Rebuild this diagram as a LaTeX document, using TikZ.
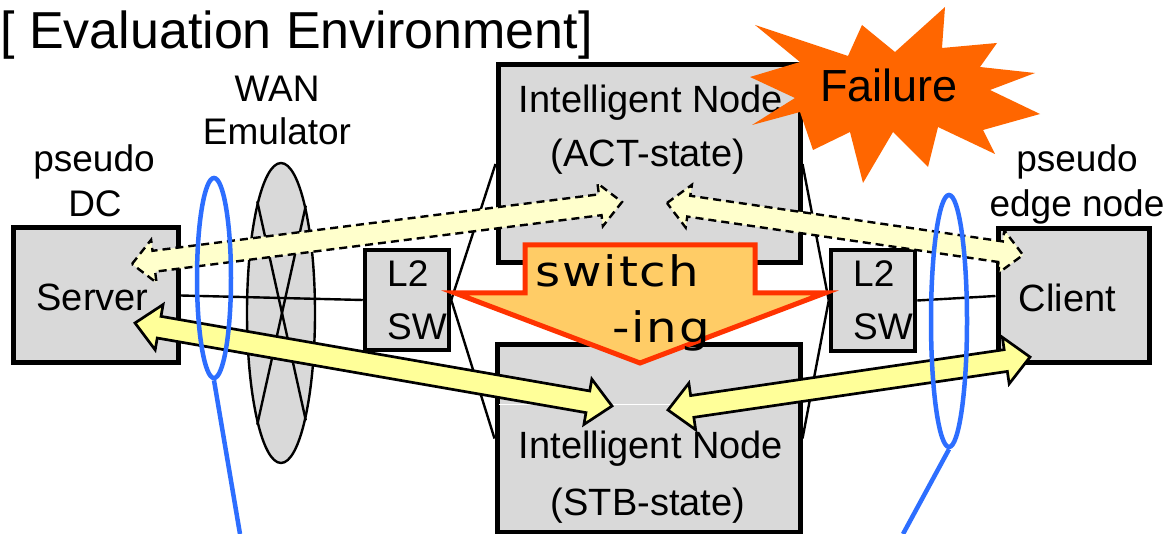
\documentclass[tikz,border=0pt]{standalone}
\usepackage{fontspec}
\usepackage{graphicx}
\setmainfont{Liberation Sans}
\newfontfamily\swfont{DejaVu Sans}[LetterSpace=4]
\usetikzlibrary{calc,shapes.geometric}
\definecolor{boxgray}{RGB}{217,217,217}
\definecolor{dashfill}{RGB}{255,255,204}
\definecolor{solidfill}{RGB}{255,255,153}
\definecolor{swfill}{RGB}{255,204,102}
\definecolor{swline}{RGB}{255,51,0}
\definecolor{starcol}{RGB}{255,102,0}
\definecolor{ringblue}{RGB}{45,110,255}
\newcommand\fsz[1]{\fontsize{#1}{#1}\selectfont}
% #1 style, #2 start, #3 end, #4 head length, #5 head half width, #6 shaft half width, #7 prefix
\newcommand\blockarrow[7]{%
  \coordinate (#7ha) at ($(#2)!#4pt!(#3)$);
  \coordinate (#7hb) at ($(#3)!#4pt!(#2)$);
  \draw[#1] (#2) -- ($(#7ha)!#5pt!90:(#3)$) -- ($(#7ha)!#6pt!90:(#3)$)
    -- ($(#7hb)!#6pt!-90:(#2)$) -- ($(#7hb)!#5pt!-90:(#2)$) -- (#3)
    -- ($(#7hb)!#5pt!90:(#2)$) -- ($(#7hb)!#6pt!90:(#2)$)
    -- ($(#7ha)!#6pt!-90:(#3)$) -- ($(#7ha)!#5pt!-90:(#3)$) -- cycle;}
\tikzset{
  box/.style={draw=black, line width=5pt, fill=boxgray, inner sep=0pt},
  swbox/.style={draw=black, line width=4.5pt, fill=boxgray, inner sep=0pt},
  lbl/.style={inner sep=0pt, font=\fsz{38}},
  small/.style={inner sep=0pt, font=\fsz{37}},
  wire/.style={draw=black, line width=2.4pt},
  wanell/.style={ellipse, draw=black, line width=2.4pt, fill=boxgray, inner sep=0pt},
  ring/.style={ellipse, draw=ringblue, line width=4.5pt, inner sep=0pt},
  ringline/.style={draw=ringblue, line width=4.5pt},
  dasharrow/.style={draw=black, line width=2.4pt, dash pattern=on 8pt off 5pt, fill=dashfill, line join=miter},
  solidarrow/.style={draw=black, line width=2.7pt, fill=solidfill, line join=miter},
  swarrow/.style={draw=swline, line width=5pt, fill=swfill, line join=miter},
}
\begin{document}
\begin{tikzpicture}[x=1pt,y=-1pt]
\useasboundingbox (0,0) rectangle (1167,534);
\fill[white] (0,0) rectangle (1167,534);

% boxes
\node[box, minimum width=165pt, minimum height=135pt] (server) at (95.5,295.5) {};
\node[swbox, minimum width=84pt, minimum height=100pt] (l2a) at (407,300) {};
\node[box, minimum width=302pt, minimum height=198pt] (act) at (649,164) {};
\node[box, minimum width=303pt, minimum height=187pt] (stb) at (648.5,438.5) {};
\node[swbox, minimum width=84pt, minimum height=101pt] (l2b) at (873,300.5) {};
\node[box, minimum width=151pt, minimum height=134pt] (client) at (1073.5,296) {};
\node[wanell, minimum width=68pt, minimum height=300pt] (wan) at (281,313) {};

% wires
\draw[wire] (server.east) -- (l2a.west);
\draw[wire] (l2a.east) -- (act.west);
\draw[wire] (l2a.east) -- (stb.west);
\draw[wire] (l2b.west) -- (act.east);
\draw[wire] (l2b.west) -- (stb.east);
\draw[wire] (l2b.east) -- (client.west);
\draw[wire] (wan.102.8) -- (wan.-77.2);
\draw[wire] (wan.77.2) -- (wan.-102.8);

% box texts
\node[lbl, anchor=base] (srvtxt) at (92.5,311) {Server};
\node[lbl, anchor=base] (clitxt) at (1067.5,312) {Client};
\node[lbl, anchor=base] (act1) at (651,113) {Intelligent Node};
\node[lbl, anchor=base] (act2) at (648,167) {(ACT-state)};
\node[lbl, anchor=base] (stb1) at (651,458) {Intelligent Node};
\node[lbl, anchor=base] (stb2) at (648,515) {(STB-state)};
\node[small, anchor=base west] (l2at) at (387,287) {L2};
\node[small, anchor=base west] (l2as) at (387,340) {SW};
\node[small, anchor=base west] (l2bt) at (853,287) {L2};
\node[small, anchor=base west] (l2bs) at (853,340) {SW};

\draw[white, line width=1pt] (499,404) -- (673,404);

% arrow end points
\coordinate (srvD) at (132,264);
\coordinate (actL) at (622,202);
\coordinate (actR) at (667,203);
\coordinate (cliD) at (1023,255);
\coordinate (srvS) at (135,323);
\coordinate (stbL) at (612,406);
\coordinate (stbR) at (668,410);
\coordinate (cliS) at (1030,357);

\blockarrow{dasharrow}{srvD}{actL}{22}{21.6}{10.5}{a}
\blockarrow{dasharrow}{actR}{cliD}{22}{21.6}{10.5}{b}
\blockarrow{solidarrow}{srvS}{stbL}{24.5}{23}{11}{c}
\blockarrow{solidarrow}{stbR}{cliS}{24.5}{23.5}{11}{d}

% switching arrow
\draw[swarrow] (525,245) -- (755,245) -- (755,293) -- (825,293) -- (640,363)
  -- (455,293) -- (525,293) -- cycle;
\node[inner sep=0pt, anchor=base west, font=\swfont\fsz{42}] (sw1) at (535,287) {\scalebox{1.15}[1]{switch}};
\node[inner sep=0pt, anchor=base west, font=\swfont\fsz{42}] (sw2) at (612,343) {\scalebox{1.15}[1]{-ing}};

% failure star
\fill[starcol] (755,25) -- (848,56) -- (862,25) -- (895,52) -- (945,7) -- (942,48)
  -- (997,43) -- (980,67) -- (1035,73) -- (990,90) -- (1040,114) -- (983,130)
  -- (995,154) -- (938,127) -- (928,167) -- (893,132) -- (863,183) -- (850,132)
  -- (813,150) -- (800,112) -- (752,125) -- (795,98) -- (750,77) -- (800,62) -- cycle;
\node[inner sep=0pt, anchor=base, font=\fsz{45}] (fail) at (889,102) {Failure};

% blue rings
\node[ring, minimum width=34pt, minimum height=200pt] (ringL) at (214,278) {};
\coordinate (tailL) at (240,534);
\draw[ringline] (ringL.south) -- (tailL);
\node[ring, minimum width=36pt, minimum height=252pt] (ringR) at (949,321) {};
\coordinate (tailR) at (903,534);
\draw[ringline] (ringR.south) -- (tailR);

% outer labels
\node[small, anchor=base] (ps1) at (94,172) {pseudo};
\node[small, anchor=base] (dc) at (95,217) {DC};
\node[small, anchor=base] (wan1) at (277,102) {WAN};
\node[small, anchor=base] (wan2) at (277,145) {Emulator};
\node[small, anchor=base] (ps2) at (1077,172) {pseudo};
\node[small, anchor=base] (edge) at (1077,217) {edge node};
\node[inner sep=0pt, anchor=base west, font=\fsz{52}] (title) at (0,49) {[ Evaluation Environment]};
\end{tikzpicture}
\end{document}
